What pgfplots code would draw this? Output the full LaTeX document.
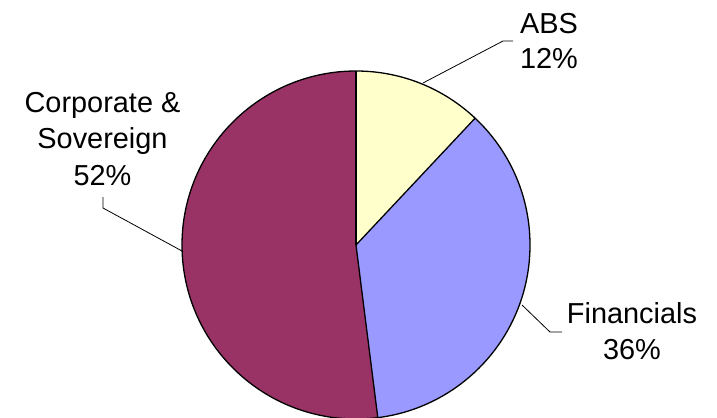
\documentclass[border=0pt]{standalone}
\usepackage{pgfplots}
\pgfplotsset{compat=1.18}
\usepackage{pgfplotstable}
\usepackage{fontspec}
\setmainfont{Liberation Sans}

\definecolor{absfill}{HTML}{FFFFCC}
\definecolor{finfill}{HTML}{9999FF}
\definecolor{corpfill}{HTML}{993366}

% Portfolio split (per cent)
\pgfplotstableread{
segment share
ABS 12
Financials 36
Corporate 52
}\sharetable
\pgfplotstablegetelem{0}{share}\of\sharetable \let\shareA\pgfplotsretval
\pgfplotstablegetelem{1}{share}\of\sharetable \let\shareB\pgfplotsretval
\pgfplotstablegetelem{2}{share}\of\sharetable \let\shareC\pgfplotsretval

% slices run clockwise from twelve o'clock
\pgfmathsetmacro\angO{90}
\pgfmathsetmacro\angA{\angO-3.6*\shareA}
\pgfmathsetmacro\angB{\angA-3.6*\shareB}
\pgfmathsetmacro\angC{\angB-3.6*\shareC}

\def\cx{356}\def\cy{172}\def\rad{174}

\begin{document}
\begin{tikzpicture}
\begin{axis}[
  x=1bp, y=1bp,
  xmin=0, xmax=717, ymin=0, ymax=417,
  hide axis, clip=true,
]
  \fill[absfill]  (axis cs:\cx,\cy) -- ++(\angO:\rad bp) arc[start angle=\angO, end angle=\angA, radius=\rad bp] -- cycle;
  \fill[finfill]  (axis cs:\cx,\cy) -- ++(\angA:\rad bp) arc[start angle=\angA, end angle=\angB, radius=\rad bp] -- cycle;
  \fill[corpfill] (axis cs:\cx,\cy) -- ++(\angB:\rad bp) arc[start angle=\angB, end angle=\angC, radius=\rad bp] -- cycle;
  \draw[line width=1.3bp] (axis cs:\cx,\cy) circle[radius=\rad bp];
  \draw[line width=1.3bp] (axis cs:\cx,\cy) -- ++(\angO:\rad bp);
  \draw[line width=1.3bp] (axis cs:\cx,\cy) -- ++(\angA:\rad bp);
  \draw[line width=1.3bp] (axis cs:\cx,\cy) -- ++(\angB:\rad bp);

  % leader lines
  \draw[line width=0.8bp] (axis cs:423,334) -- (axis cs:503,376) -- (axis cs:513,376);
  \draw[line width=0.8bp] (axis cs:522,112) -- (axis cs:550,85) -- (axis cs:562,85);
  \draw[line width=0.8bp] (axis cs:182,166) -- (axis cs:103,209) -- (axis cs:103,220);

  % data labels
  \begin{scope}[every node/.style={anchor=base, inner sep=0pt, font=\fontsize{29}{35}\selectfont}]
    \node at (axis cs:549,384) {ABS};
    \node at (axis cs:549,349) {\shareA\%};
    \node at (axis cs:632,94) {Financials};
    \node at (axis cs:632,58) {\shareB\%};
    \node at (axis cs:102.5,305) {Corporate \&};
    \node at (axis cs:102.5,269) {Sovereign};
    \node at (axis cs:102.5,232) {\shareC\%};
  \end{scope}
\end{axis}
\pgfresetboundingbox
\path (current axis.south west) rectangle (current axis.north east);
\end{tikzpicture}
\end{document}
